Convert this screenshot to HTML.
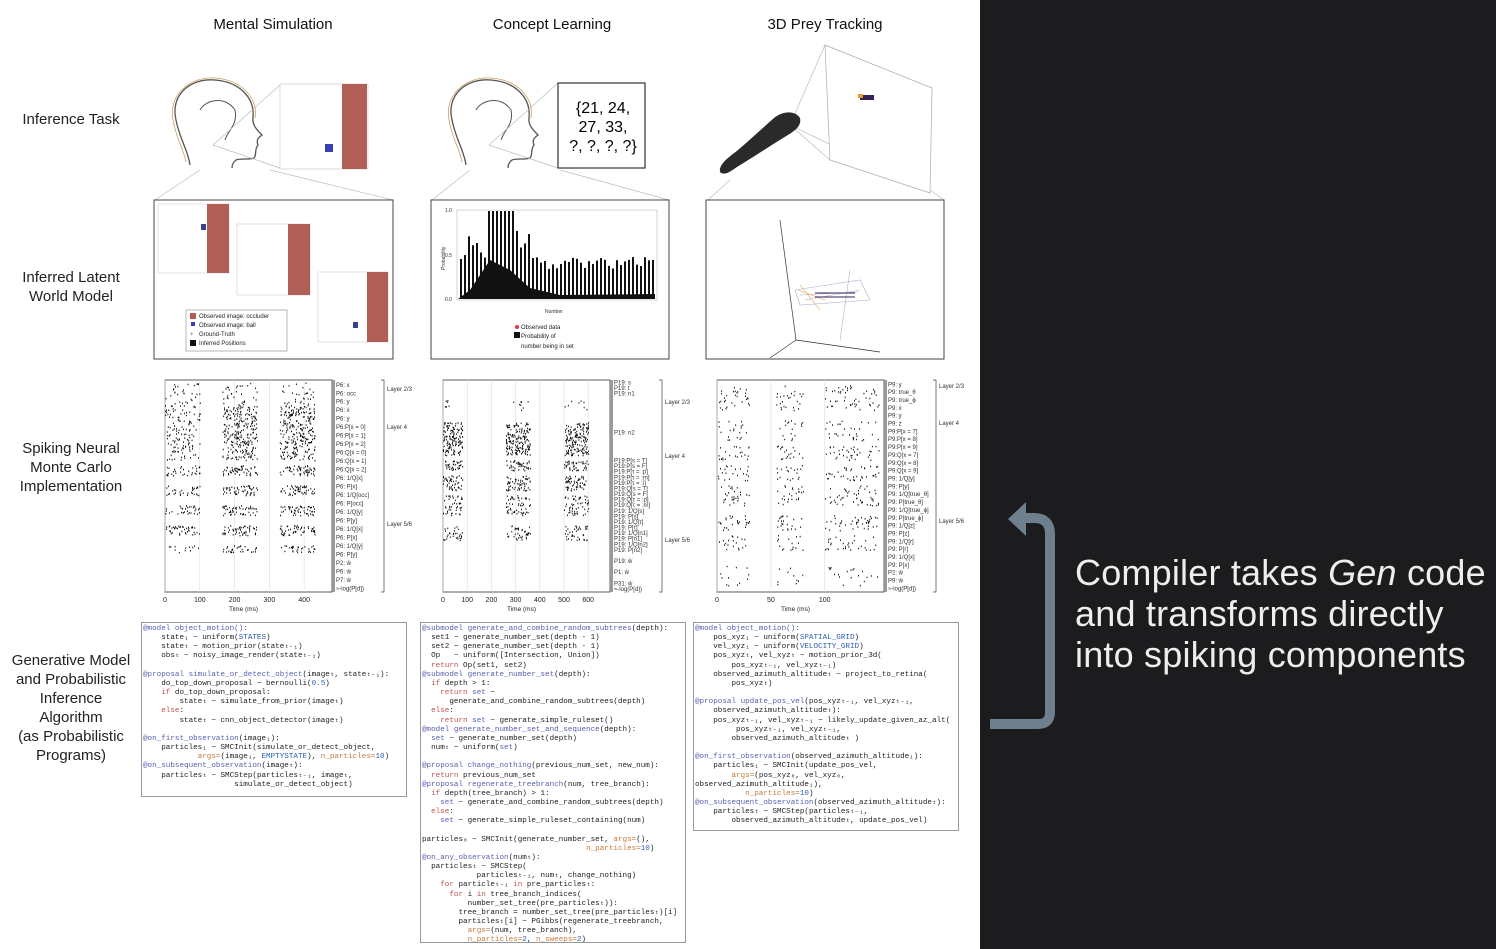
<!DOCTYPE html>
<html><head><meta charset="utf-8"><style>
body{margin:0;width:1496px;height:949px;overflow:hidden;background:#fff;font-family:"Liberation Sans",sans-serif;position:relative}
#dark{position:absolute;left:980px;top:0;width:516px;height:949px;background:#1c1b1d}
.t{position:absolute;font-size:15px;color:#111;text-align:center}
.rl{position:absolute;font-size:15px;color:#222;text-align:center;line-height:19px}
pre{position:absolute;margin:0;border:1px solid #999;background:#fff;font-family:"Liberation Mono",monospace;font-size:7.6px;line-height:9.15px;color:#222;padding:2px 1px;box-sizing:border-box;overflow:hidden}
.k{color:#5a5fb0}.r{color:#c0504d}.o{color:#c77a3a}.b{color:#2a5db0}
#cap{position:absolute;left:1075px;top:552px;color:#eee;font-size:36px;line-height:41px;letter-spacing:0.2px}
</style></head><body>
<div id="dark"></div>
<div class="t" style="left:173px;top:16px;width:200px">Mental Simulation</div>
<div class="t" style="left:452px;top:16px;width:200px">Concept Learning</div>
<div class="t" style="left:725px;top:16px;width:200px">3D Prey Tracking</div>
<div class="rl" style="left:0;top:110px;width:142px">Inference Task</div>
<div class="rl" style="left:0;top:268px;width:142px">Inferred Latent<br>World Model</div>
<div class="rl" style="left:0;top:439px;width:142px">Spiking Neural<br>Monte Carlo<br>Implementation</div>
<div class="rl" style="left:0;top:651px;width:142px">Generative Model<br>and Probabilistic<br>Inference<br>Algorithm<br>(as Probabilistic<br>Programs)</div>

<svg width="980" height="620" style="position:absolute;left:0;top:0">
<g fill="none" stroke="#555" stroke-width="1.3">
<path d="M190 165 C188 150 180 140 176 120 C170 95 190 78 215 80 C240 82 255 98 253 118 C252 125 257 130 262 135 C258 138 256 140 258 145 C254 150 257 155 254 158 C250 160 240 158 236 160 C232 163 232 167 232 168"/>
<path d="M466 165 C464 150 456 140 452 120 C446 95 466 78 491 80 C516 82 531 98 529 118 C528 125 533 130 538 135 C534 138 532 140 534 145 C530 150 533 155 530 158 C526 160 516 158 512 160 C508 163 508 167 508 168"/>
<path d="M200 110 C205 100 225 95 235 110 C238 125 228 130 225 140" stroke-width="1"/>
<path d="M476 110 C481 100 501 95 511 110 C514 125 504 130 501 140" stroke-width="1"/>
</g>
<g fill="none" stroke="#c8a060" stroke-width="0.8"><path d="M186 162 C184 150 176 138 173 120 C168 95 190 76 215 78 C242 80 258 98 255 118"/><path d="M462 162 C460 150 452 138 449 120 C444 95 466 76 491 78 C518 80 534 98 531 118"/></g>
<g stroke="#bbb" stroke-width="0.7">
<line x1="213" y1="145" x2="280" y2="85"/><line x1="213" y1="145" x2="280" y2="168"/><line x1="489" y1="145" x2="558" y2="83"/><line x1="489" y1="145" x2="558" y2="168"/>
<line x1="155" y1="200" x2="200" y2="170"/><line x1="393" y1="200" x2="270" y2="170"/><line x1="432" y1="200" x2="470" y2="170"/><line x1="669" y1="200" x2="560" y2="170"/>
<line x1="708" y1="200" x2="730" y2="180"/><line x1="944" y1="200" x2="930" y2="190"/>
<line x1="790" y1="125" x2="825" y2="45"/><line x1="790" y1="125" x2="830" y2="160"/><line x1="790" y1="125" x2="930" y2="193"/>
<line x1="290" y1="90" x2="342" y2="135"/>
</g>
<rect x="280" y="84" width="88" height="85" fill="#fff" stroke="#ccc" stroke-width="0.7"/>
<rect x="342" y="84" width="25" height="85" fill="#b05e56"/>
<rect x="325" y="144" width="8" height="8" fill="#3a3fb8"/>
<rect x="558" y="83" width="87" height="85" fill="#fff" stroke="#333" stroke-width="1.2"/>
<text x="603" y="113" font-size="16" text-anchor="middle">{21, 24,</text>
<text x="603" y="132" font-size="16" text-anchor="middle">27, 33,</text>
<text x="603" y="151" font-size="16" text-anchor="middle">?, ?, ?, ?}</text>
<path d="M825 45 L932 88 L930 193 L830 160 Z" fill="#fff" stroke="#aaa" stroke-width="0.7"/>
<rect x="860" y="95" width="14" height="5" fill="#332255"/><rect x="858" y="94" width="5" height="4" fill="#e0a030"/>
<path d="M720 172 C719 165 725 160 738 150 C752 138 765 126 774 118 C784 110 796 111 800 118 C802 127 793 132 783 138 C770 146 752 158 737 167 C730 172 724 176 720 172Z" fill="#2a2a2a"/>
<rect x="154" y="200" width="239" height="159" fill="#fff" stroke="#444"/>
<rect x="158" y="204" width="71" height="69" fill="#fff" stroke="#ccc" stroke-width="0.6"/><rect x="207" y="204" width="22" height="69" fill="#b05e56"/>
<rect x="237" y="224" width="73" height="71" fill="#fff" stroke="#ccc" stroke-width="0.6"/><rect x="288" y="224" width="22" height="71" fill="#b05e56"/>
<rect x="318" y="272" width="70" height="70" fill="#fff" stroke="#ccc" stroke-width="0.6"/><rect x="367" y="272" width="21" height="70" fill="#b05e56"/>
<rect x="201" y="224" width="5" height="6" fill="#334488"/><rect x="353" y="322" width="5" height="6" fill="#334488"/>
<rect x="186" y="310" width="101" height="41" fill="#fff" stroke="#888" stroke-width="0.6"/>
<g font-size="6" fill="#222"><rect x="190" y="313" width="6" height="6" fill="#b05e56"/><text x="199" y="318">Observed image: occluder</text>
<rect x="191" y="322" width="4" height="4" fill="#3a3fb8"/><text x="199" y="327">Observed image: ball</text>
<text x="190" y="336" fill="#393">+</text><text x="199" y="336">Ground-Truth</text>
<rect x="190" y="340" width="6" height="6" fill="#111"/><text x="199" y="345">Inferred Positions</text></g>
<rect x="431" y="200" width="238" height="159" fill="#fff" stroke="#444"/>
<rect x="457" y="210" width="200" height="90" fill="#fff" stroke="#aaa" stroke-width="0.5"/>
<g id="bars"></g>
<g font-size="5" fill="#333"><text x="445" y="212">1.0</text><text x="445" y="257">0.5</text><text x="445" y="301">0.0</text><text x="545" y="313">Number</text><text x="440" y="265" transform="rotate(-90 445 265)">Probability</text></g>
<g font-size="6" fill="#222"><circle cx="517" cy="327" r="2" fill="#e33"/><text x="521" y="329">Observed data</text><rect x="514" y="332" width="6" height="6" fill="#111"/><text x="521" y="338">Probability of</text><text x="521" y="348">number being in set</text></g>
<rect x="706" y="200" width="238" height="159" fill="#fff" stroke="#444"/>
<g stroke="#333" stroke-width="0.7" fill="none"><line x1="780" y1="220" x2="796" y2="340"/><line x1="796" y1="340" x2="880" y2="352"/><line x1="796" y1="340" x2="770" y2="358"/></g>
<g stroke="#9a9ac8" stroke-width="0.6" opacity="0.8"><path d="M795 290 L860 280 L870 300 L800 305 Z" fill="none"/><line x1="800" y1="295" x2="858" y2="292"/><line x1="805" y1="300" x2="860" y2="290"/><line x1="850" y1="270" x2="840" y2="340"/></g>
<g stroke="#d9a050" stroke-width="0.6"><line x1="798" y1="290" x2="825" y2="300"/><line x1="800" y1="285" x2="820" y2="310"/></g>
<g stroke="#332255" stroke-width="1"><line x1="815" y1="293" x2="855" y2="293"/><line x1="815" y1="297" x2="855" y2="297"/></g>
<g id="rast"></g>
</svg>

<pre style="left:141px;top:622px;width:266px;height:175px"><span class="k">@model object_motion():</span>
    state₁ ~ uniform(<span class="b">STATES</span>)
    stateₜ ~ motion_prior(stateₜ₋₁)
    obsₜ ~ noisy_image_render(stateₜ₋₁)

<span class="k">@proposal simulate_or_detect_object</span>(imageₜ, stateₜ₋₁):
    do_top_down_proposal ~ bernoulli(<span class="b">0.5</span>)
    <span class="r">if</span> do_top_down_proposal:
        stateₜ ~ simulate_from_prior(imageₜ)
    <span class="r">else</span>:
        stateₜ ~ cnn_object_detector(imageₜ)

<span class="k">@on_first_observation</span>(image₁):
    particles₁ ~ SMCInit(simulate_or_detect_object,
            <span class="o">args=</span>(image₁, <span class="b">EMPTYSTATE</span>), <span class="o">n_particles=</span><span class="b">10</span>)
<span class="k">@on_subsequent_observation</span>(imageₜ):
    particlesₜ ~ SMCStep(particlesₜ₋₁, imageₜ,
                    simulate_or_detect_object)</pre>

<pre style="left:420px;top:622px;width:266px;height:321px"><span class="k">@submodel generate_and_combine_random_subtrees</span>(depth):
  set1 ~ generate_number_set(depth - 1)
  set2 ~ generate_number_set(depth - 1)
  Op   ~ uniform([Intersection, Union])
  <span class="r">return</span> Op(set1, set2)
<span class="k">@submodel generate_number_set</span>(depth):
  <span class="r">if</span> depth > 1:
    <span class="r">return</span> <span class="k">set</span> ~
      generate_and_combine_random_subtrees(depth)
  <span class="r">else</span>:
    <span class="r">return</span> <span class="k">set</span> ~ generate_simple_ruleset()
<span class="k">@model generate_number_set_and_sequence</span>(depth):
  <span class="k">set</span> ~ generate_number_set(depth)
  numₜ ~ uniform(<span class="k">set</span>)

<span class="k">@proposal change_nothing</span>(previous_num_set, new_num):
  <span class="r">return</span> previous_num_set
<span class="k">@proposal regenerate_treebranch</span>(num, tree_branch):
  <span class="r">if</span> depth(tree_branch) > 1:
    <span class="k">set</span> ~ generate_and_combine_random_subtrees(depth)
  <span class="r">else</span>:
    <span class="k">set</span> ~ generate_simple_ruleset_containing(num)

particles₀ ~ SMCInit(generate_number_set, <span class="o">args=</span>(),
                                    <span class="o">n_particles=</span><span class="b">10</span>)
<span class="k">@on_any_observation</span>(numₜ):
  particlesₜ ~ SMCStep(
            particlesₜ₋₁, numₜ, change_nothing)
    <span class="r">for</span> particleₜ₋₁ <span class="r">in</span> pre_particlesₜ:
      <span class="r">for</span> i <span class="r">in</span> tree_branch_indices(
          number_set_tree(pre_particlesₜ)):
        tree_branch = number_set_tree(pre_particlesₜ)[i]
        particlesₜ[i] ~ PGibbs(regenerate_treebranch,
          <span class="o">args=</span>(num, tree_branch),
          <span class="o">n_particles=</span><span class="b">2</span>, <span class="o">n_sweeps=</span><span class="b">2</span>)</pre>

<pre style="left:693px;top:622px;width:266px;height:209px"><span class="k">@model object_motion():</span>
    pos_xyz₁ ~ uniform(<span class="b">SPATIAL_GRID</span>)
    vel_xyz₁ ~ uniform(<span class="b">VELOCITY_GRID</span>)
    pos_xyzₜ, vel_xyzₜ ~ motion_prior_3d(
        pos_xyzₜ₋₁, vel_xyzₜ₋₁)
    observed_azimuth_altitudeₜ ~ project_to_retina(
        pos_xyzₜ)

<span class="k">@proposal update_pos_vel</span>(pos_xyzₜ₋₁, vel_xyzₜ₋₁,
    observed_azimuth_altitudeₜ):
    pos_xyzₜ₋₁, vel_xyzₜ₋₁ ~ likely_update_given_az_alt(
         pos_xyzₜ₋₁, vel_xyzₜ₋₁,
        observed_azimuth_altitudeₜ )

<span class="k">@on_first_observation</span>(observed_azimuth_altitude₁):
    particles₁ ~ SMCInit(update_pos_vel,
        <span class="o">args=</span>(pos_xyz₀, vel_xyz₀,
observed_azimuth_altitude₁),
           <span class="o">n_particles=</span><span class="b">10</span>)
<span class="k">@on_subsequent_observation</span>(observed_azimuth_altitudeₜ):
    particlesₜ ~ SMCStep(particlesₜ₋₁,
        observed_azimuth_altitudeₜ, update_pos_vel)</pre>

<svg width="516" height="949" style="position:absolute;left:980px;top:0">
<path d="M10 724 L58 724 Q70 724 70 712 L70 534 Q70 518 54 518 L44 518" fill="none" stroke="#6e7f8d" stroke-width="10"/>
<path d="M46 502 L28 519 L46 536 Z" fill="#6e7f8d"/>
</svg>
<div id="cap">Compiler takes <i>Gen</i> code<br>and transforms directly<br>into spiking components</div>

<script>
var NS="http://www.w3.org/2000/svg";
function el(t,a,p){var e=document.createElementNS(NS,t);for(var k in a)e.setAttribute(k,a[k]);p.appendChild(e);return e;}
var s=1;function rnd(){s=(s*16807)%2147483647;return s/2147483647;}
var bg=document.getElementById('bars');
for(var i=0;i<49;i++){var x=460+i*4,h=(i>8&&i<14)?88:(i<20?40+rnd()*30:30+rnd()*12);if(i>=7&&i<=11)h=88;el('rect',{x:x,y:299-h,width:2,height:h,fill:'#111'},bg);}
el('path',{d:'M458 299 L470 290 L490 260 L510 270 L530 288 L560 295 L655 294 L655 299 Z',fill:'#111'},bg);
var rg=document.getElementById('rast');
function raster(x0,y0,w,h,tmax,wins,bands,labels,layers,ticks){
 el('rect',{x:x0,y:y0,width:w,height:h,fill:'#fff',stroke:'#333','stroke-width':0.8},rg);
 ticks.forEach(function(t){var x=x0+t/tmax*w;el('line',{x1:x,y1:y0,x2:x,y2:y0+h,stroke:'#ddd','stroke-width':0.6},rg);
  var tx=el('text',{x:x,y:y0+h+10,'font-size':7,'text-anchor':'middle',fill:'#222'},rg);tx.textContent=t;});
 var tl=el('text',{x:x0+w/2-5,y:y0+h+19,'font-size':6.5,'text-anchor':'middle',fill:'#222'},rg);tl.textContent='Time (ms)';
 bands.forEach(function(b){wins.forEach(function(wn,wi){var d=b[2]*(b[3]&&wi==0?b[3]:1);var n=d*(wn[1]-wn[0])/tmax*w*(b[1]-b[0])*0.15;
  for(var k=0;k<n;k++){var t=wn[0]+rnd()*(wn[1]-wn[0]);el('rect',{x:x0+t/tmax*w,y:y0+b[0]+rnd()*(b[1]-b[0]),width:0.9,height:1.5,fill:'#000'},rg);}});});
 el('rect',{x:x0+w,y:y0,width:3,height:h,fill:'#999'},rg);
 var lh=h/labels.length;labels.forEach(function(l,i){var t=el('text',{x:x0+w+4,y:y0+i*lh+lh*0.8,'font-size':Math.min(6,lh*1.1),fill:'#333'},rg);t.textContent=l;});
 var bx=x0+w+52;el('path',{d:'M'+(bx-3)+' '+y0+' L'+bx+' '+y0+' L'+bx+' '+(y0+h)+' L'+(bx-3)+' '+(y0+h),fill:'none',stroke:'#444','stroke-width':0.7},rg);
 layers.forEach(function(L){var t=el('text',{x:bx+3,y:y0+L[1],'font-size':6,fill:'#333'},rg);t.textContent=L[0];});
}
raster(165,380,167,212,480,[[0,100],[165,265],[330,430]],[[2,25,0.25,0],[25,80,0.9,0.5],[85,95,1,0.6],[105,115,1,0.6],[125,135,1,0.6],[145,155,1,0.8],[165,172,0.8,0.4]],
 ['P6: x','P6: occ','P6: y','P6: ẋ','P6: ẏ','P6:P[ẋ = 0]','P6:P[ẋ = 1]','P6:P[ẋ = 2]','P6:Q[ẋ = 0]','P6:Q[ẋ = 1]','P6:Q[ẋ = 2]','P6: 1/Q[x]','P6: P[x]','P6: 1/Q[occ]','P6: P[occ]','P6: 1/Q[y]','P6: P[y]','P6: 1/Q[ẋ]','P6: P[ẋ]','P6: 1/Q[ẏ]','P6: P[ẏ]','P2: ŵ','P6: ŵ','P7: ŵ','≈-log(P[d])'],
 [['Layer 2/3',11],['Layer 4',49],['Layer 5/6',146]],[0,100,200,300,400]);
raster(443,380,167,212,690,[[0,80],[260,360],[500,600]],[[20,30,0.2],[42,75,1.4],[80,90,1.2],[95,110,1.1],[115,120,0.9],[122,135,0.8],[145,160,0.7]],
 ['P19: s','P19: t','P19: n1','','','','','','','P19: n2','','','','','P19:P[s = T]','P19:P[s = F]','P19:P[τ = :p]','P19:P[τ = :m]','P19:P[τ = :i]','P19:Q[s = T]','P19:Q[s = F]','P19:Q[τ = :p]','P19:Q[τ = :m]','P19: 1/Q[s]','P19: P[s]','P19: 1/Q[τ]','P19: P[τ]','P19: 1/Q[n1]','P19: P[n1]','P19: 1/Q[n2]','P19: P[n2]','','P19: ŵ','','P1: ŵ','','P31: ŵ','≈-log(P[d])'],
 [['Layer 2/3',24],['Layer 4',78],['Layer 5/6',162]],[0,100,200,300,400,500,600]);
raster(717,380,167,212,155,[[0,30],[55,80],[100,150]],[[5,30,0.25],[40,60,0.2],[65,80,0.3],[85,100,0.3],[105,125,0.3],[135,150,0.35],[155,170,0.25],[185,205,0.12]],
 ['P9: y','P9: true_θ','P9: true_ϕ','P9: ẋ','P9: ẏ','P9: ż','P9:P[x = 7]','P9:P[x = 8]','P9:P[x = 9]','P9:Q[x = 7]','P9:Q[x = 8]','P9:Q[x = 9]','P9: 1/Q[y]','P9: P[y]','P9: 1/Q[true_θ]','P9: P[true_θ]','P9: 1/Q[true_ϕ]','P9: P[true_ϕ]','P9: 1/Q[z]','P9: P[z]','P9: 1/Q[r]','P9: P[r]','P9: 1/Q[x]','P9: P[x]','P2: ŵ','P9: ŵ','≈-log(P[d])'],
 [['Layer 2/3',8],['Layer 4',45],['Layer 5/6',143]],[0,50,100]);
</script>
</body></html>
